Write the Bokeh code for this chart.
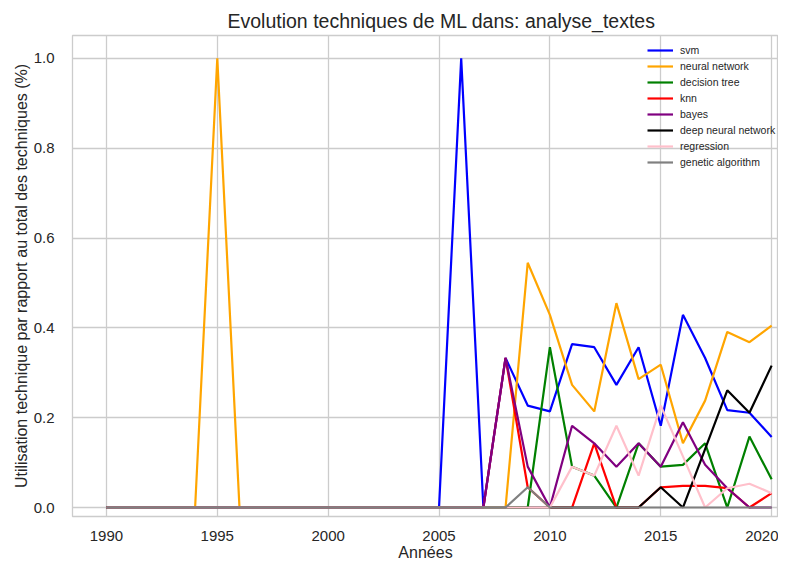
from bokeh.plotting import figure
from bokeh.models import Range1d, FixedTicker, Legend, LegendItem, NumeralTickFormatter
from bokeh.embed import file_html
from bokeh.resources import INLINE

years = list(range(1990, 2021))

svm = [0, 0, 0, 0, 0, 0, 0, 0, 0, 0, 0, 0, 0, 0, 0, 0,
       1.0, 0, 0.333, 0.227, 0.214, 0.364, 0.357, 0.273, 0.357, 0.182,
       0.429, 0.333, 0.217, 0.211, 0.157]
neural_network = [0, 0, 0, 0, 0, 1.0, 0, 0, 0, 0, 0, 0, 0, 0, 0, 0, 0, 0, 0,
                  0.545, 0.429, 0.273, 0.214, 0.455, 0.286, 0.318, 0.143,
                  0.238, 0.391, 0.368, 0.405]
decision_tree = [0, 0, 0, 0, 0, 0, 0, 0, 0, 0, 0, 0, 0, 0, 0, 0, 0, 0, 0, 0,
                 0.357, 0.091, 0.071, 0.0, 0.143, 0.091, 0.095, 0.143, 0.0,
                 0.158, 0.063]
knn = [0, 0, 0, 0, 0, 0, 0, 0, 0, 0, 0, 0, 0, 0, 0, 0, 0, 0,
       0.333, 0.045, 0.0, 0.0, 0.143, 0.0, 0.0, 0.045, 0.048, 0.048, 0.043,
       0.0, 0.032]
bayes = [0, 0, 0, 0, 0, 0, 0, 0, 0, 0, 0, 0, 0, 0, 0, 0, 0, 0,
         0.333, 0.091, 0.0, 0.182, 0.143, 0.091, 0.143, 0.091, 0.190, 0.095,
         0.043, 0.0, 0.0]
deep_neural_network = [0, 0, 0, 0, 0, 0, 0, 0, 0, 0, 0, 0, 0, 0, 0, 0, 0, 0,
                       0, 0, 0, 0, 0, 0, 0,
                       0.045, 0.0, 0.130, 0.261, 0.211, 0.316]
regression = [0, 0, 0, 0, 0, 0, 0, 0, 0, 0, 0, 0, 0, 0, 0, 0, 0, 0, 0, 0, 0,
              0.091, 0.071, 0.182, 0.071, 0.227, 0.114, 0.0, 0.043, 0.053,
              0.032]
genetic_algorithm = [0, 0, 0, 0, 0, 0, 0, 0, 0, 0, 0, 0, 0, 0, 0, 0, 0, 0, 0,
                     0.045, 0, 0, 0, 0, 0, 0, 0, 0, 0, 0, 0]

series_names = ["svm", "neural network", "decision tree", "knn", "bayes",
                "deep neural network", "regression", "genetic algorithm"]
series_values = [svm, neural_network, decision_tree, knn, bayes,
                 deep_neural_network, regression, genetic_algorithm]
series_colors = ["blue", "orange", "green", "red", "purple", "black", "pink", "gray"]

x_ticks = [1990, 1995, 2000, 2005, 2010, 2015, 2020]
y_ticks = [0.0, 0.2, 0.4, 0.6, 0.8, 1.0]

FONT = "Liberation Sans"
TXT = "#262626"
GRID = "#cccccc"

p = figure(width=778, height=563, output_backend="svg", toolbar_location=None,
           x_range=Range1d(1988.47, 2020.31), y_range=Range1d(-0.020, 1.051),
           min_border_left=72, min_border_right=0, min_border_top=35,
           min_border_bottom=0)

p.title.text = "Evolution techniques de ML dans: analyse_textes"
p.title.text_font = FONT
p.title.text_font_size = "19.5px"
p.title.text_font_style = "normal"
p.title.text_color = TXT
p.title.align = "left"
p.title.offset = 155
p.title.standoff = 8

p.outline_line_color = GRID
p.outline_line_width = 1.3
p.background_fill_color = "white"
p.border_fill_color = "white"

for ax in (p.xaxis[0], p.yaxis[0]):
    ax.axis_line_color = None
    ax.major_tick_line_color = None
    ax.minor_tick_line_color = None
    ax.major_label_text_font = FONT
    ax.major_label_text_font_size = "15px"
    ax.major_label_text_color = TXT
    ax.axis_label_text_font = FONT
    ax.axis_label_text_font_size = "16px"
    ax.axis_label_text_font_style = "normal"
    ax.axis_label_text_color = TXT

p.xaxis.ticker = FixedTicker(ticks=x_ticks)
p.yaxis.ticker = FixedTicker(ticks=y_ticks)
p.yaxis.formatter = NumeralTickFormatter(format="0.0")
p.xaxis.axis_label = "Années"
p.yaxis.axis_label = "Utilisation technique par rapport au total des techniques (%)"
p.xaxis.major_label_standoff = 8
p.xaxis.axis_label_standoff = 0
p.yaxis.major_label_standoff = 12
p.yaxis.axis_label_standoff = 1

p.xgrid.grid_line_color = GRID
p.ygrid.grid_line_color = GRID
p.xgrid.grid_line_width = 1.3
p.ygrid.grid_line_width = 1.3

items = []
for name, vals, col in zip(series_names, series_values, series_colors):
    r = p.line(years, vals, line_color=col, line_width=2.2)
    items.append(LegendItem(label=name, renderers=[r]))

legend = Legend(items=items, location=(575, 346))
legend.label_text_font = FONT
legend.label_text_font_size = "10.5px"
legend.label_text_color = TXT
legend.glyph_width = 26
legend.glyph_height = 16
legend.label_height = 16
legend.label_standoff = 7
legend.spacing = 0
legend.padding = 0
legend.margin = 0
legend.border_line_color = None
legend.background_fill_alpha = 0.0
p.add_layout(legend, "center")

open("out.html", "w").write(file_html(p, INLINE))
